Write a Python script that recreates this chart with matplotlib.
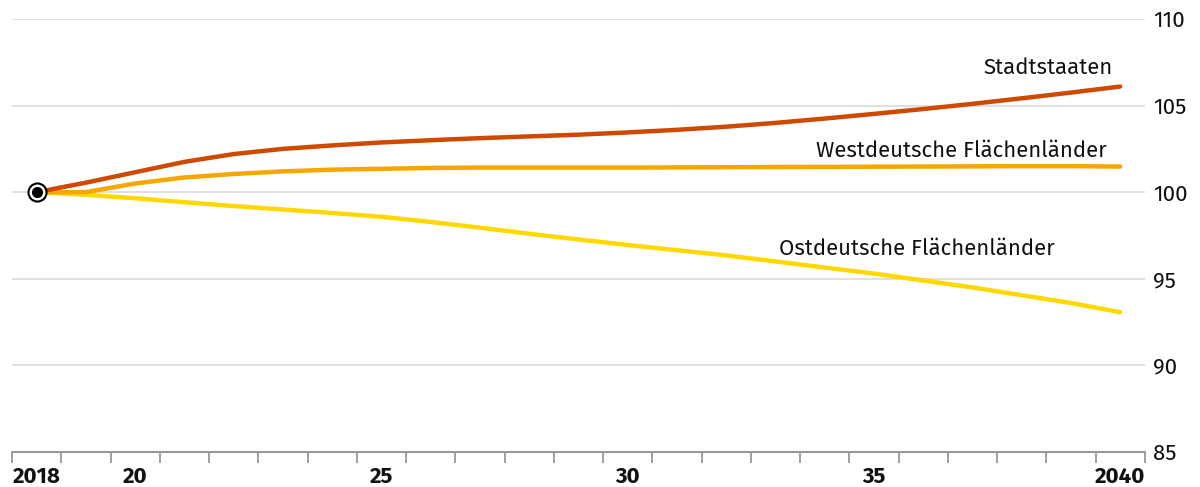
import numpy as np
import matplotlib
matplotlib.use('Agg')
import matplotlib.pyplot as plt
from matplotlib.ticker import FixedLocator, NullFormatter

plt.rcParams['font.family'] = ['Fira Sans', 'Noto Sans', 'DejaVu Sans']

years = list(range(2018, 2041))
stadtstaaten = [100.0, 100.55, 101.15, 101.75, 102.2, 102.5, 102.7, 102.87, 103.0, 103.12,
                103.22, 103.32, 103.45, 103.6, 103.78, 104.0, 104.25, 104.52, 104.8, 105.1,
                105.42, 105.75, 106.1]
west = [100.0, 100.0, 100.5, 100.85, 101.05, 101.2, 101.3, 101.35, 101.4, 101.42,
        101.42, 101.42, 101.42, 101.43, 101.44, 101.45, 101.46, 101.47, 101.48, 101.49,
        101.5, 101.5, 101.48]
ost = [100.0, 99.85, 99.65, 99.42, 99.2, 99.0, 98.8, 98.58, 98.28, 97.95,
       97.6, 97.27, 96.95, 96.65, 96.35, 96.0, 95.65, 95.3, 94.9, 94.5,
       94.05, 93.6, 93.07]
labels = {2018: '2018', 2020: '20', 2025: '25', 2030: '30', 2035: '35', 2040: '2040'}

fig = plt.figure(figsize=(12, 4.87), dpi=100)
ax = fig.add_axes([0.01, 0.072, 0.944, 0.889])

ax.plot(years, ost, color='#ffd800', lw=3.2, solid_capstyle='round', zorder=3)
ax.plot(years, west, color='#f7a600', lw=3.2, solid_capstyle='round', zorder=4)
ax.plot(years, stadtstaaten, color='#cf4900', lw=3.2, solid_capstyle='round', zorder=5)

# start marker
ax.plot([years[0]], [stadtstaaten[0]], 'o', ms=13, mfc='white', mec='black', mew=1.5, zorder=6, clip_on=False)
ax.plot([years[0]], [stadtstaaten[0]], 'o', ms=7, mfc='black', mec='black', zorder=7, clip_on=False)

ax.set_xlim(2017.5, 2040.5)
ax.set_ylim(85, 110)

ax.set_yticks([85, 90, 95, 100, 105, 110])
ax.yaxis.tick_right()
ax.tick_params(axis='y', length=0, pad=6, labelsize=16, labelcolor='#111111')
for y in [90, 95, 100, 105, 110]:
    ax.axhline(y, color='#dddddd', lw=1.3, zorder=1)

ax.set_xticks(list(labels.keys()))
ax.set_xticklabels(list(labels.values()), fontweight='bold')
ax.tick_params(axis='x', which='major', length=0, pad=10, labelsize=16, labelcolor='#111111')
ax.xaxis.set_minor_locator(FixedLocator(np.arange(2017.5, 2041, 1)))
ax.xaxis.set_minor_formatter(NullFormatter())
ax.tick_params(axis='x', which='minor', length=8, width=1.3, color='#999999', direction='out')

for s in ['top', 'left', 'right']:
    ax.spines[s].set_visible(False)
ax.spines['bottom'].set_color('#999999')
ax.spines['bottom'].set_linewidth(1.5)

ax.text(2039.84, 107.2, 'Stadtstaaten', ha='right', va='center', fontsize=16, color='#111111')
ax.text(2039.72, 102.4, 'Westdeutsche Flächenländer', ha='right', va='center', fontsize=16, color='#111111')
ax.text(2033.08, 96.75, 'Ostdeutsche Flächenländer', ha='left', va='center', fontsize=16, color='#111111')

fig.savefig('out.png', dpi=100)
